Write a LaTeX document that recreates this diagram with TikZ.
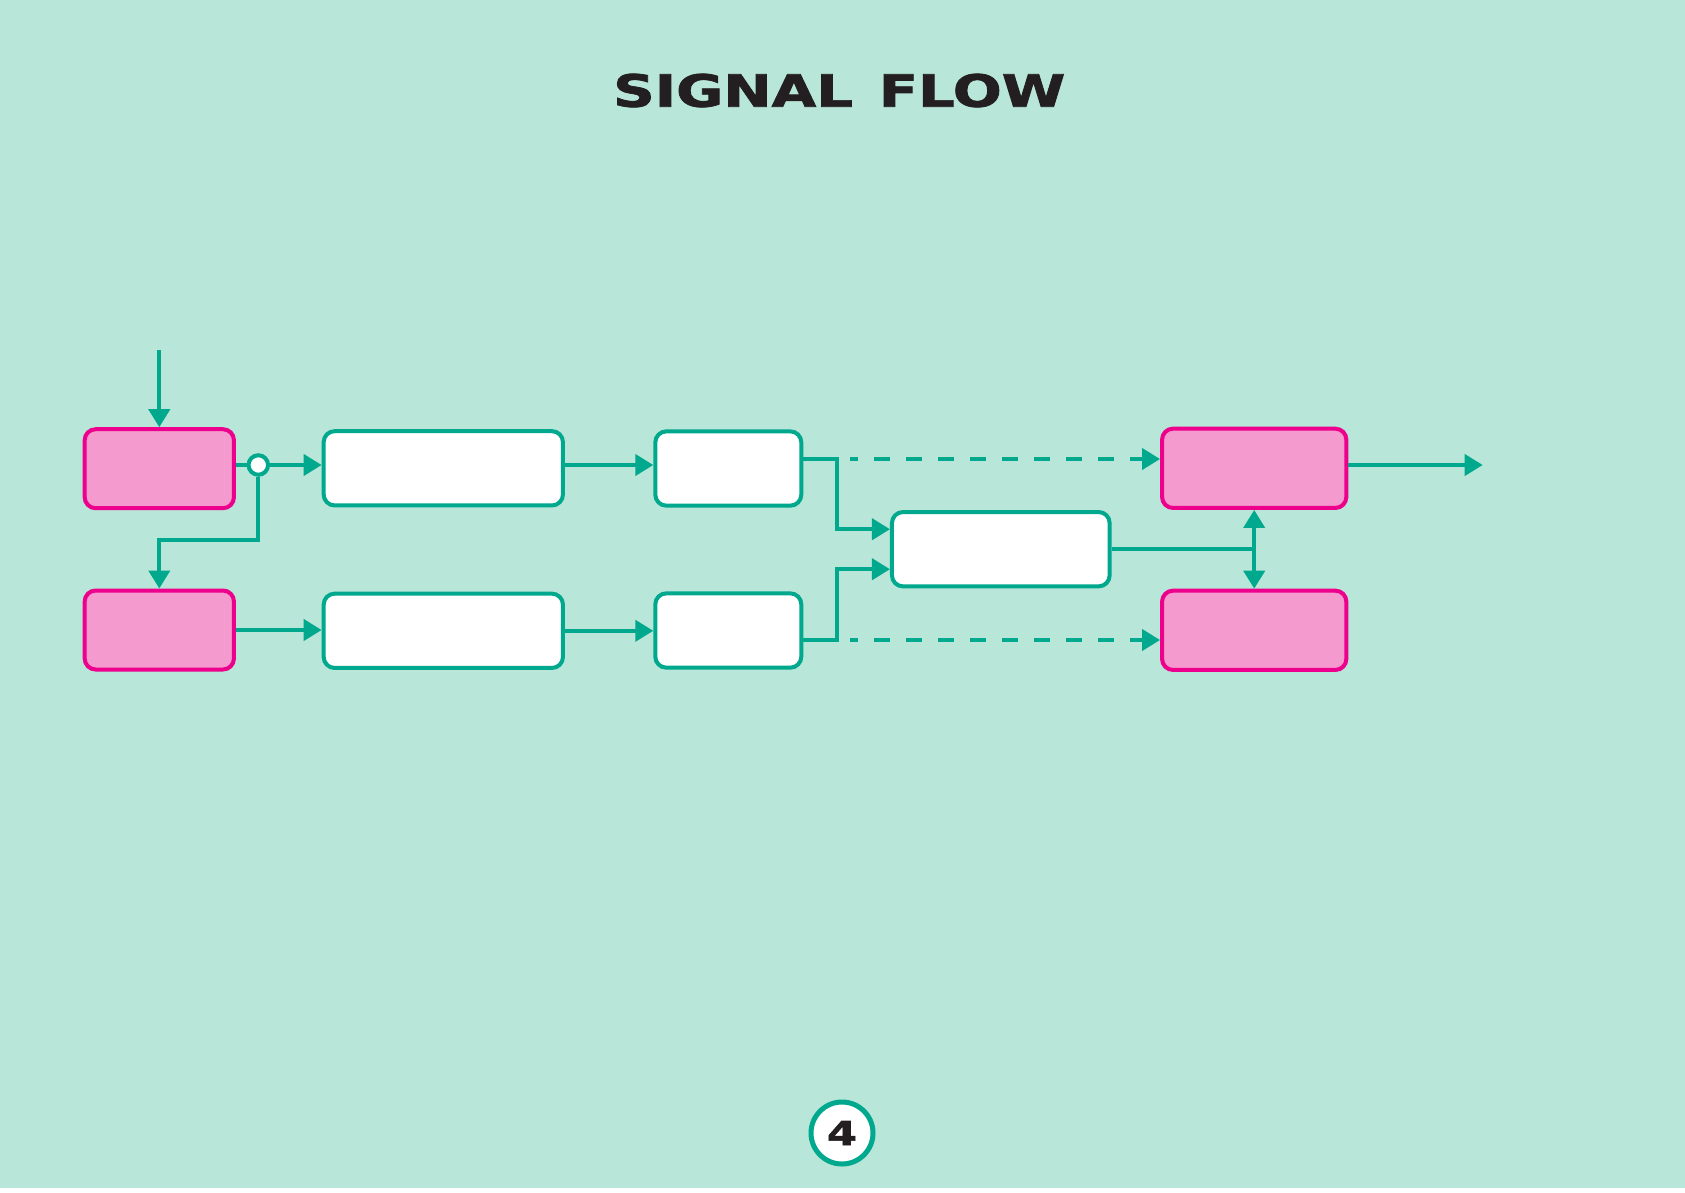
\documentclass[tikz,border=0pt]{standalone}
\usepackage{fontspec}
\usepackage{graphicx}
\setmainfont{DejaVu Sans}
\newfontfamily\titlefont{DejaVu Sans}[BoldFeatures={FakeBold=1.6}]
\usetikzlibrary{arrows.meta,calc}
\definecolor{sfbg}{RGB}{184,230,216}
\definecolor{sfgreen}{RGB}{0,168,142}
\definecolor{sfpink}{RGB}{245,154,206}
\definecolor{sfmag}{RGB}{236,0,140}
\definecolor{sfink}{RGB}{35,31,32}
\begin{document}
\begin{tikzpicture}[x=1pt,y=-1pt,
  pinkbox/.style={draw=sfmag, fill=sfpink, line width=4pt, rounded corners=11pt, inner sep=0pt, minimum width=149.3pt, minimum height=79pt},
  whitebox/.style={draw=sfgreen, fill=white, line width=4pt, rounded corners=11pt, inner sep=0pt, minimum height=74.3pt},
  conn/.style={draw=sfgreen, line width=4pt},
  flow/.style={conn, -{Triangle[length=18pt,width=21pt]}},
  dashflow/.style={flow, dash pattern=on 16pt off 16pt, dash phase=8pt},
]
\useasboundingbox (0,0) rectangle (1685,1192);
\fill[sfbg] (0,0) rectangle (1685,1192);
\fill[white] (0,1188) rectangle (1685,1192);

% title
\node[anchor=base west, inner sep=0pt, text=sfink] (title) at (613,106.7)
  {\resizebox{452pt}{33pt}{\titlefont\bfseries SIGNAL\hspace{0.45em}FLOW}};

% boxes
\node[pinkbox] (A) at (159.3,468.7) {};
\node[pinkbox] (C) at (159.3,630) {};
\node[whitebox, minimum width=239.3pt] (B1) at (443.3,468.3) {};
\node[whitebox, minimum width=239.3pt] (B2) at (443.3,630.8) {};
\node[whitebox, minimum width=146pt] (D1) at (728.3,468.5) {};
\node[whitebox, minimum width=146pt] (D2) at (728.3,630.5) {};
\node[whitebox, minimum width=217.7pt] (E) at (1000.8,549.2) {};
\node[pinkbox, minimum width=184.3pt, minimum height=79.3pt] (F1) at (1254.2,468.3) {};
\node[pinkbox, minimum width=184.3pt, minimum height=79.3pt] (F2) at (1254.2,630.3) {};
\node[circle, draw=sfgreen, fill=white, line width=4pt, minimum size=19.5pt, inner sep=0pt] (J) at (258.3,465) {};

% connectors
\coordinate (in) at (159.3,350);
\draw[flow] (in) -- (A.north);
\draw[conn] (A.east |- J) -- (J.west);
\draw[flow] (J.east) -- (J -| B1.west);
\draw[flow] (J.south) -- ([yshift=-75pt]J.center) -| (C.north);
\draw[flow] (C.east) -- (C.east -| B2.west);
\draw[flow] (B1.east |- J) -- (J -| D1.west);
\draw[flow] (B2.east) -- (B2.east -| D2.west);
\draw[flow] ([yshift=9.5pt]D1.east) -- ++(34,0) |- ([yshift=20pt]E.west);
\draw[flow] ([yshift=-9pt]D2.east) -- ++(34,0) |- ([yshift=-20pt]E.west);
\coordinate (d1o) at (850,459);
\coordinate (d2o) at (850,640);
\draw[dashflow] (d1o) -- (d1o -| F1.west);
\draw[dashflow] (d2o) -- (d2o -| F2.west);
\coordinate (K) at (E.east -| F1.south);
\draw[conn] (E.east) -- (K);
\draw[flow] (K) -- (F1.south);
\draw[flow] (K) -- (F2.north);
\coordinate (out) at (1482.7,465);
\draw[flow] (F1.east |- out) -- (out);

% page number
\node[circle, draw=sfgreen, fill=white, line width=5pt, minimum size=62pt, inner sep=0pt, text=sfink] (pg) at (842,1133)
  {\resizebox{30pt}{24pt}{\titlefont\bfseries 4}};
\end{tikzpicture}
\end{document}
